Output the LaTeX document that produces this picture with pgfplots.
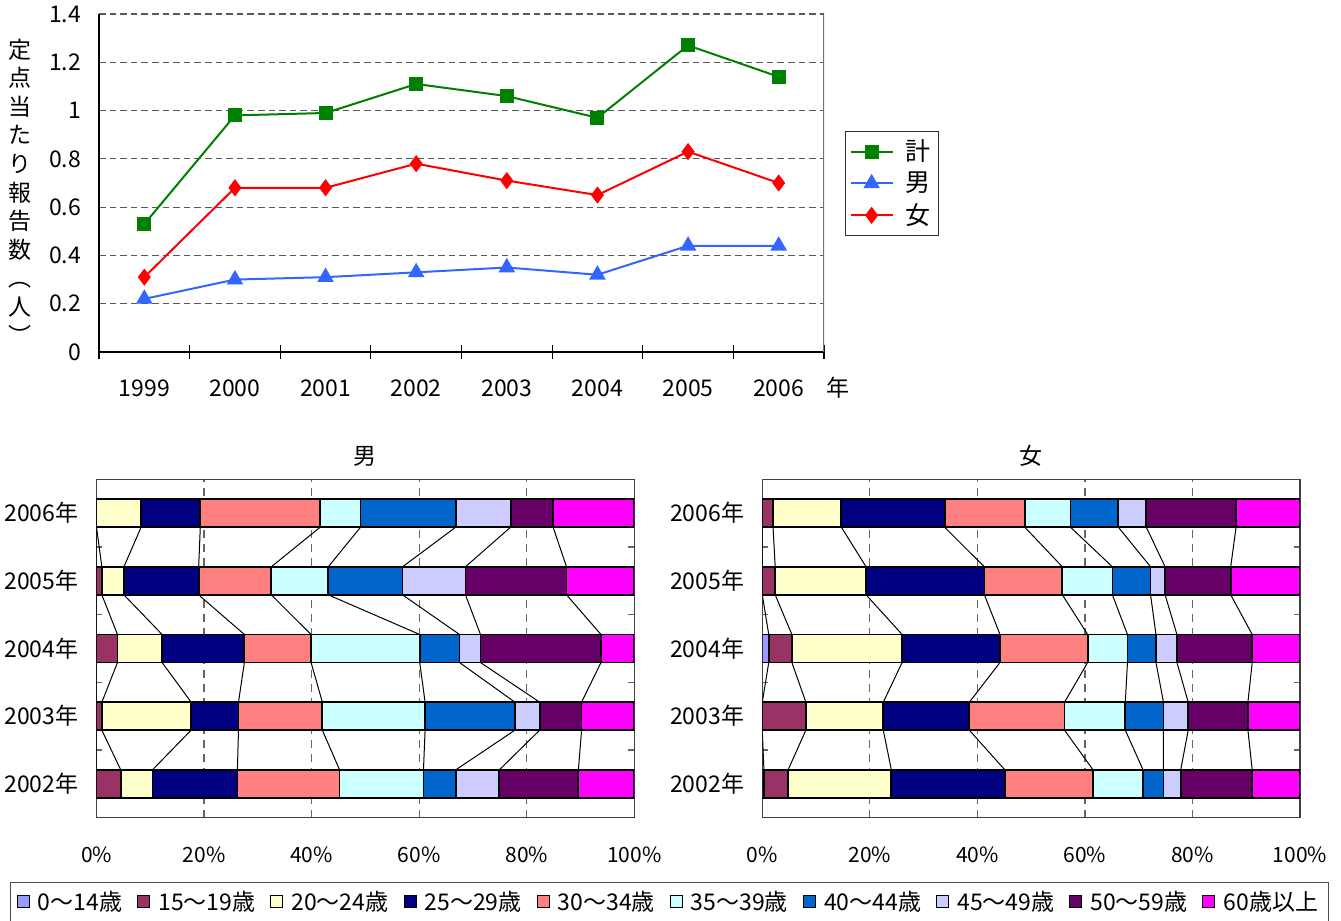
\documentclass[border=0pt]{standalone}
\usepackage{fontspec}
\setmainfont{Noto Sans CJK JP}
\usepackage{pgfplots}
\usepackage{pgfplotstable}
\pgfplotsset{compat=1.18}

\definecolor{gkei}{HTML}{008000}
\definecolor{bman}{HTML}{3366FF}
\definecolor{rwom}{HTML}{FF0000}
\definecolor{age1}{HTML}{9999FF}
\definecolor{age2}{HTML}{993366}
\definecolor{age3}{HTML}{FFFFCC}
\definecolor{age4}{HTML}{000080}
\definecolor{age5}{HTML}{FF8080}
\definecolor{age6}{HTML}{CCFFFF}
\definecolor{age7}{HTML}{0066CC}
\definecolor{age8}{HTML}{CCCCFF}
\definecolor{age9}{HTML}{660066}
\definecolor{age10}{HTML}{FF00FF}

% cumulative share (%) at the end of each age group; each year twice (top / bottom bar edge)
\pgfplotstableread{
year e      c1  c2  c3   c4   c5   c6   c7   c8   c9   c10
4    0.207  0   0   8.3  19.3 41.6 49.1 66.8 77.0 84.9 100
4   -0.207  0   0   8.3  19.3 41.6 49.1 66.8 77.0 84.9 100
3    0.207  0   1.0 5.1  19.0 32.5 43.1 56.9 68.6 87.4 100
3   -0.207  0   1.0 5.1  19.0 32.5 43.1 56.9 68.6 87.4 100
2    0.207  0   3.9 12.2 27.5 39.9 60.1 67.5 71.4 93.8 100
2   -0.207  0   3.9 12.2 27.5 39.9 60.1 67.5 71.4 93.8 100
1    0.207  0   1.0 17.6 26.4 42.0 61.1 77.8 82.4 90.2 100
1   -0.207  0   1.0 17.6 26.4 42.0 61.1 77.8 82.4 90.2 100
0    0.207  0   4.5 10.4 26.2 45.2 60.8 66.8 74.9 89.6 100
0   -0.207  0   4.5 10.4 26.2 45.2 60.8 66.8 74.9 89.6 100
}\mtab

\pgfplotstableread{
year e      c1  c2  c3   c4   c5   c6   c7   c8   c9   c10
4    0.207  0   2.0 14.7 33.9 48.8 57.3 66.2 71.4 88.1 100
4   -0.207  0   2.0 14.7 33.9 48.8 57.3 66.2 71.4 88.1 100
3    0.207  0   2.4 19.3 41.3 55.8 65.1 72.2 74.9 87.1 100
3   -0.207  0   2.4 19.3 41.3 55.8 65.1 72.2 74.9 87.1 100
2    0.207  1.2 5.5 26.0 44.2 60.5 67.9 73.2 77.1 91.1 100
2   -0.207  1.2 5.5 26.0 44.2 60.5 67.9 73.2 77.1 91.1 100
1    0.207  0   8.1 22.5 38.5 56.2 67.5 74.6 79.2 90.3 100
1   -0.207  0   8.1 22.5 38.5 56.2 67.5 74.6 79.2 90.3 100
0    0.207  0.3 4.8 24.0 45.1 61.5 70.8 74.6 77.8 91.1 100
0   -0.207  0.3 4.8 24.0 45.1 61.5 70.8 74.6 77.8 91.1 100
}\ftab

\pgfplotsset{
  share/.style={
    anchor=south west, scale only axis, width=268.9pt, height=169.2pt,
    xmin=0, xmax=100, ymin=-0.5, ymax=4.5,
    axis line style={black!75, line width=0.6pt},
    xtick={0,20,40,60,80,100}, xticklabels={0\%,20\%,40\%,60\%,80\%,100\%},
    ytick={0,1,2,3,4}, yticklabels={2002年,2003年,2004年,2005年,2006年},
    minor ytick={0.5,1.5,2.5,3.5},
    major tick length=0pt, minor tick length=3pt, tick align=inside,
    minor tick style={black!60, line width=0.6pt},
    xmajorgrids, grid style={black!60, line width=0.6pt, dash pattern=on 4pt off 3pt},
    xticklabel style={anchor=base, yshift=-22.5pt, font=\fontsize{10.5}{12}\selectfont},
    yticklabel style={xshift=-5.5pt, font=\fontsize{11.5}{13}\selectfont},
    title style={at={(0.5,1)}, anchor=center, yshift=5.5pt, font=\fontsize{11.5}{13}\selectfont},
  },
  seg/.style={xbar, bar shift=0pt, bar width=14pt, draw=black, line width=0.9pt, forget plot},
  link/.style={black, line width=0.5pt, mark=none, forget plot},
}

\begin{document}
\begin{tikzpicture}
\useasboundingbox (0pt,0pt) rectangle (670.5pt,-460.5pt);

\begin{axis}[
  at={(49.5pt,-176pt)}, anchor=south west,
  scale only axis, width=362.5pt, height=169pt,
  xmin=-0.5, xmax=7.5, ymin=0, ymax=1.4,
  axis x line*=bottom, axis y line*=left,
  axis line style={line width=1pt, black},
  xtick={0,1,2,3,4,5,6,7},
  xticklabels={1999,2000,2001,2002,2003,2004,2005,2006},
  minor xtick={-0.5,0.5,...,7.5},
  major tick length=0pt, minor tick length=7pt, tick align=center,
  minor tick style={line width=0.6pt, black},
  ytick={0,0.2,0.4,0.6,0.8,1,1.2,1.4},
  yticklabels={0,0.2,0.4,0.6,0.8,1,1.2,1.4},
  ymajorgrids, grid style={black!65, line width=0.6pt, dash pattern=on 3.3pt off 2pt},
  tick label style={font=\fontsize{11.5}{13}\selectfont},
  xticklabel style={anchor=base, yshift=-22pt},
  yticklabel style={xshift=-5.5pt},
  xlabel={年},
  xlabel style={at={(axis description cs:1.019,0)}, anchor=base, yshift=-22pt,
    font=\fontsize{11.5}{13}\selectfont},
  ylabel={定\\点\\当\\た\\り\\報\\告\\数\\︵\\人\\︶},
  ylabel style={rotate=-90, align=center, at={(axis description cs:-0.109,0.475)}, anchor=center,
    font=\fontsize{11.5}{14.3}\selectfont},
  legend image code/.code={\draw[mark repeat=2, mark phase=2, #1]
    plot coordinates {(0pt,0pt) (10.5pt,0pt) (21pt,0pt)};},
  legend style={at={(axis description cs:1.029,0.654)}, anchor=north west,
    draw=black!80, line width=0.6pt, font=\fontsize{12.5}{14}\selectfont,
    row sep=0.3pt, inner sep=2pt,
    /tikz/every even column/.append style={column sep=1.5pt}},
  legend cell align=left,
]
\addplot[gkei, line width=1pt, mark=square*, mark size=3pt]
  coordinates {(0,0.53) (1,0.98) (2,0.99) (3,1.11) (4,1.06) (5,0.97) (6,1.27) (7,1.14)};
\addlegendentry{\hspace{4pt}計}
\addplot[bman, line width=1pt, mark=triangle*, mark size=3.8pt]
  coordinates {(0,0.22) (1,0.30) (2,0.31) (3,0.33) (4,0.35) (5,0.32) (6,0.44) (7,0.44)};
\addlegendentry{\hspace{4pt}男}
\addplot[rwom, line width=1pt, mark=diamond*, mark size=3.5pt]
  coordinates {(0,0.31) (1,0.68) (2,0.68) (3,0.78) (4,0.71) (5,0.65) (6,0.83) (7,0.70)};
\addlegendentry{\hspace{4pt}女}
\draw[black!55, line width=0.8pt] (rel axis cs:1,0) -- (rel axis cs:1,1);
\end{axis}

\begin{axis}[share, at={(48.25pt,-408.85pt)}, title={男}]
\pgfplotsinvokeforeach{1,...,9}{
  \addplot[link] table[x=c#1, y expr=\thisrow{year}+\thisrow{e}] {\mtab};
}
\pgfplotsinvokeforeach{10,9,...,1}{
  \addplot[seg, fill=age#1] table[x=c#1, y=year] {\mtab};
}
\end{axis}

\begin{axis}[share, at={(381.15pt,-408.85pt)}, title={女},
  legend image code/.code={\draw[#1, draw=black, line width=0.5pt] (0pt,-3pt) rectangle (6pt,3pt);
    \path (8pt,0pt);},
  legend columns=10,
  legend style={at={(axis description cs:-0.1726,-0.249)}, anchor=center,
    draw=black!70, line width=0.6pt, font=\fontsize{11.5}{13}\selectfont,
    /tikz/every even column/.append style={column sep=5.5pt}},
]
\pgfplotsinvokeforeach{1,...,9}{
  \addplot[link] table[x=c#1, y expr=\thisrow{year}+\thisrow{e}] {\ftab};
}
\pgfplotsinvokeforeach{10,9,...,1}{
  \addplot[seg, fill=age#1] table[x=c#1, y=year] {\ftab};
}
\addlegendimage{fill=age1}\addlegendentry{0～14歳}
\addlegendimage{fill=age2}\addlegendentry{15～19歳}
\addlegendimage{fill=age3}\addlegendentry{20～24歳}
\addlegendimage{fill=age4}\addlegendentry{25～29歳}
\addlegendimage{fill=age5}\addlegendentry{30～34歳}
\addlegendimage{fill=age6}\addlegendentry{35～39歳}
\addlegendimage{fill=age7}\addlegendentry{40～44歳}
\addlegendimage{fill=age8}\addlegendentry{45～49歳}
\addlegendimage{fill=age9}\addlegendentry{50～59歳}
\addlegendimage{fill=age10}\addlegendentry{60歳以上}
\end{axis}
\end{tikzpicture}
\end{document}
